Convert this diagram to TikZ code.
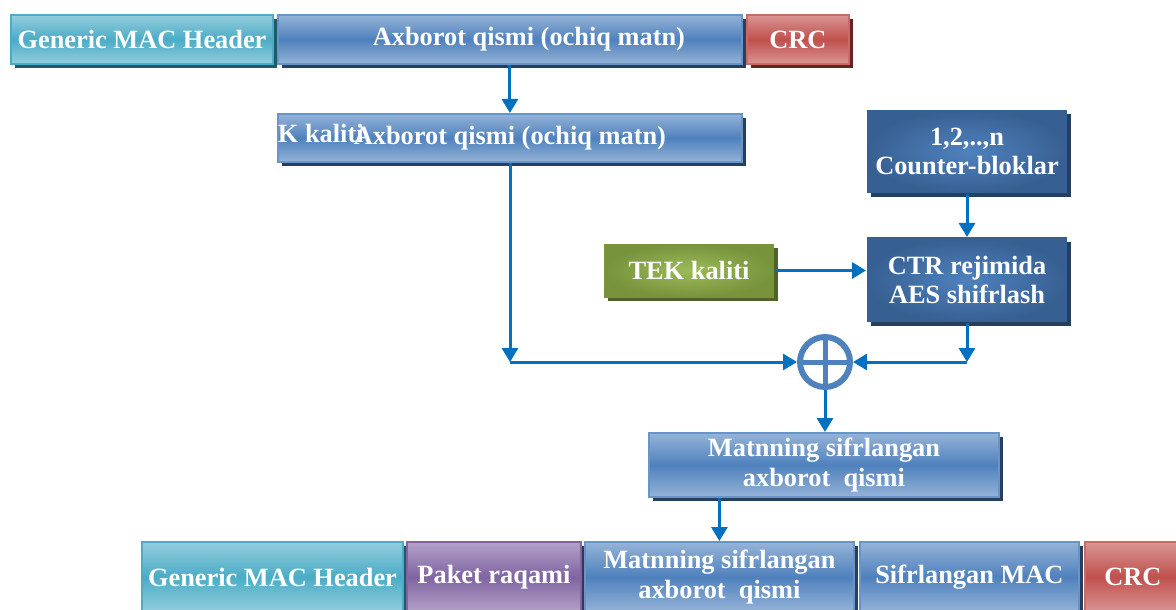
\documentclass[tikz,border=0pt]{standalone}
\usepackage{fontspec}
\setmainfont{Liberation Serif}
\usepackage{tikz}
\usetikzlibrary{positioning, shapes.geometric, arrows.meta, shadows}

\definecolor{hdrlight}{HTML}{93CDDD}
\definecolor{hdrmid}{HTML}{4BACC6}
\definecolor{hdrdark}{HTML}{215968}
\definecolor{bluelight}{HTML}{95B3D7}
\definecolor{bluemid}{HTML}{4F81BD}
\definecolor{bluedark}{HTML}{243F60}
\definecolor{navy}{HTML}{376092}
\definecolor{redlight}{HTML}{D99694}
\definecolor{redmid}{HTML}{C0504D}
\definecolor{reddark}{HTML}{632523}
\definecolor{purplelight}{HTML}{B3A2C7}
\definecolor{purplemid}{HTML}{8064A2}
\definecolor{purpledark}{HTML}{3F3151}
\definecolor{greenlight}{HTML}{9BBB59}
\definecolor{greenmid}{HTML}{77933C}
\definecolor{greendark}{HTML}{4F6228}
\definecolor{arrowblue}{HTML}{0070C0}

\begin{document}
\begin{tikzpicture}[
    x=0.02cm, y=-0.02cm,
    field/.style={rectangle, line width=0.04cm, text=white, align=center, inner sep=0pt,
        font=\bfseries\fontsize{15}{16.5}\selectfont},
    hdrfield/.style={field, draw=hdrmid, top color=hdrlight, bottom color=hdrlight, middle color=hdrmid,
        drop shadow={shadow xshift=0.08cm, shadow yshift=-0.08cm, fill=hdrdark, opacity=1}},
    infofield/.style={field, draw=bluemid!85!white, top color=bluelight, bottom color=bluelight, middle color=bluemid,
        drop shadow={shadow xshift=0.08cm, shadow yshift=-0.08cm, fill=bluedark, opacity=1}},
    crcfield/.style={field, draw=redmid!85!white, top color=redlight, bottom color=redlight, middle color=redmid,
        drop shadow={shadow xshift=0.08cm, shadow yshift=-0.08cm, fill=reddark, opacity=1}},
    pktfield/.style={field, draw=purplemid, top color=purplelight, bottom color=purplelight, middle color=purplemid,
        drop shadow={shadow xshift=0.08cm, shadow yshift=-0.08cm, fill=purpledark, opacity=1}},
    keybox/.style={field, draw=none, inner color=greenlight, outer color=greenmid,
        drop shadow={shadow xshift=0.08cm, shadow yshift=-0.08cm, fill=greendark, opacity=1}},
    blockbox/.style={field, draw=none, inner color=bluemid, outer color=navy,
        drop shadow={shadow xshift=0.08cm, shadow yshift=-0.08cm, fill=bluedark, opacity=1}},
    xorop/.style={circle, draw=bluemid, line width=0.12cm, fill=white, minimum size=1cm, inner sep=0pt,
        path picture={\draw[bluemid, line width=0.1cm]
            (path picture bounding box.north) -- (path picture bounding box.south)
            (path picture bounding box.west) -- (path picture bounding box.east);}},
    flow/.style={draw=arrowblue, line width=0.06cm, -{Triangle[width=0.32cm, length=0.28cm]}}
]
    \useasboundingbox (0,0) rectangle (1176,609);
    \clip (0,0) rectangle (1176,609);

    % Input frame
    \node[hdrfield, minimum width=5.24cm, minimum height=0.98cm] (HdrA) at (142,39.5) {Generic MAC Header};
    \node[infofield, minimum width=9.28cm, minimum height=0.98cm] (InfoA) [right=0.06cm of HdrA]
        {\hspace*{0.76cm}Axborot qismi (ochiq matn)};
    \node[crcfield, minimum width=2.04cm, minimum height=1cm] (CrcA) [right=0.06cm of InfoA] {CRC};

    % Plain part
    \node[infofield, minimum width=9.28cm, minimum height=0.96cm] (InfoB) [below=0.96cm of InfoA]
        {Axborot qismi (ochiq matn)};
    \node[field, anchor=west] (KeyCut) at ([yshift=0.1cm]InfoB.west) {K kaliti};

    % Key stream
    \node[blockbox, minimum width=4cm, minimum height=1.66cm] (Counter) at (967,151.5) {1,2,..,n\\Counter-bloklar};
    \node[blockbox, minimum width=4cm, minimum height=1.68cm] (Aes) [below=0.86cm of Counter] {CTR rejimida\\AES shifrlash};
    \node[keybox, minimum width=3.4cm, minimum height=1.06cm] (Tek) at (689,270.5) {TEK kaliti};

    % XOR and cipher part
    \node[xorop] (Xor) at (825,362) {};
    \coordinate (CornerL) at (510,362);
    \coordinate (CornerR) at (Aes.south |- CornerL);
    \node[infofield, minimum width=7cm, minimum height=1.28cm, font=\bfseries\fontsize{15}{17}\selectfont] (Cipher) at (824,465)
        {Matnning sifrlangan\\axborot~~qismi};

    % Output frame
    \node[hdrfield, minimum width=5.22cm, minimum height=1.4cm] (HdrB) at (272.5,577) {Generic MAC Header};
    \node[pktfield, minimum width=3.48cm, minimum height=1.4cm] (Pkt) [right=0.04cm of HdrB] {Paket raqami};
    \node[infofield, minimum width=5.38cm, minimum height=1.4cm, font=\bfseries\fontsize{15}{17}\selectfont] (CipherB) [right=0.04cm of Pkt]
        {Matnning sifrlangan\\axborot~~qismi};
    \node[infofield, minimum width=4.38cm, minimum height=1.4cm] (Mac) [right=0.08cm of CipherB] {Sifrlangan MAC};
    \node[crcfield, minimum width=1.92cm, minimum height=1.4cm] (CrcB) [right=0.08cm of Mac] {CRC};

    % Connectors
    \draw[flow] (InfoA) -- (InfoB);
    \draw[flow] (InfoB.south -| CornerL) -- (CornerL);
    \draw[flow] (CornerL) -- (Xor);
    \draw[flow] (Counter) -- (Aes);
    \draw[flow] (Tek.east) -- (Tek.east -| Aes.west);
    \draw[flow] (Aes) -- (CornerR);
    \draw[flow] (CornerR) -- (Xor);
    \draw[flow] (Xor) -- (Xor |- Cipher.north);
    \draw[flow] (CipherB.north |- Cipher.south) -- (CipherB.north);

\end{tikzpicture}
\end{document}
